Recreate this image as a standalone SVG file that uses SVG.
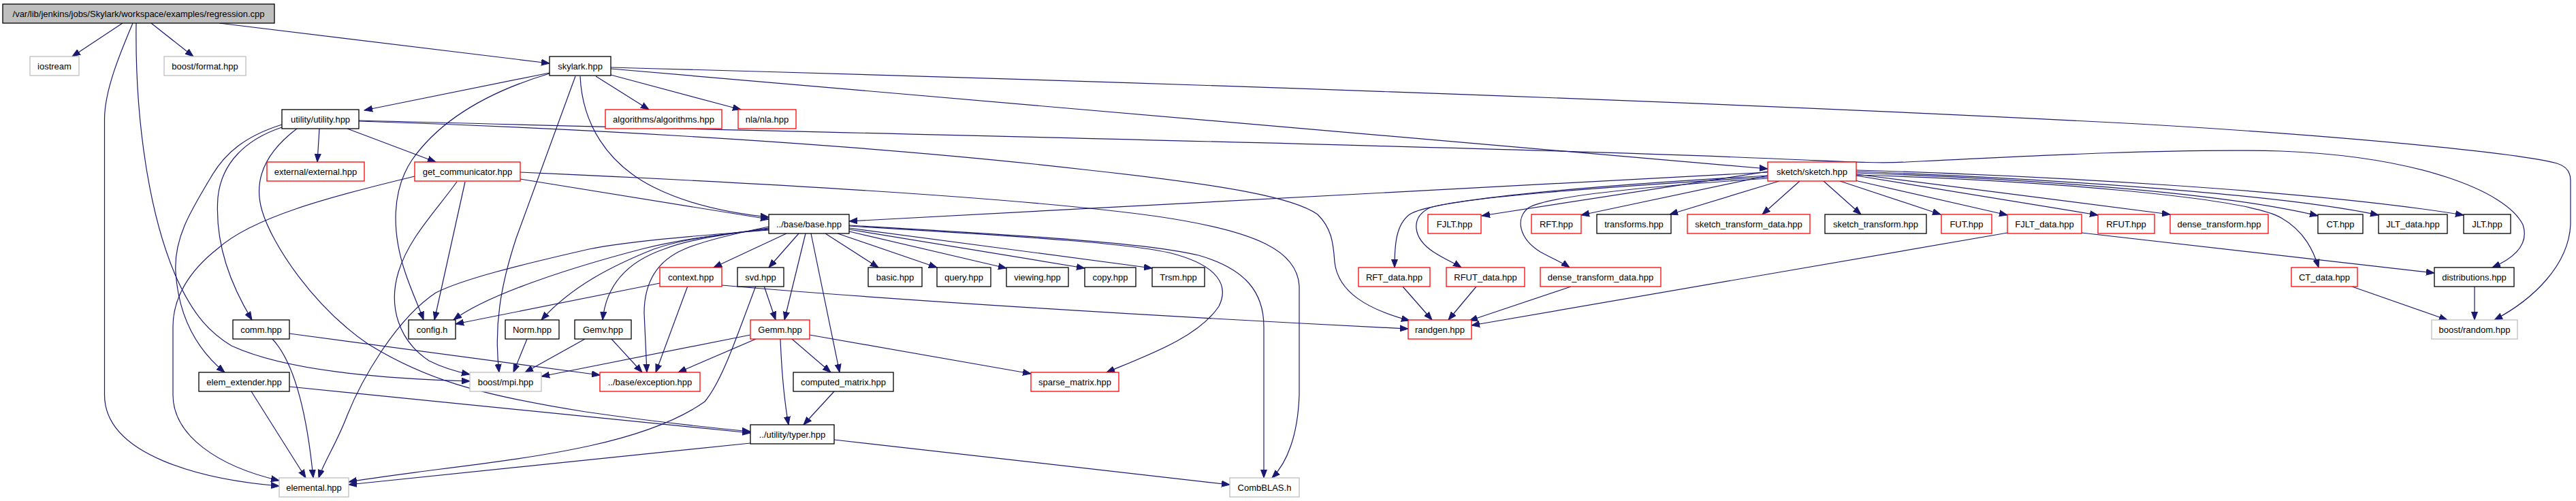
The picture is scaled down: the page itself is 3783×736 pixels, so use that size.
<svg xmlns="http://www.w3.org/2000/svg" width="3783" height="736" viewBox="0 0 3783 736">
<style>
.n rect{fill:#fff;stroke-width:1.3}
.nb rect{stroke:#000}
.nr rect{stroke:#ff0000}
.ng rect{stroke:#bfbfbf}
.root rect{fill:#bfbfbf;stroke:#000}
text{font-family:"Liberation Sans",Arial,sans-serif;font-size:13px;fill:#000;text-anchor:middle}
#edges path{fill:none;stroke:#191970;stroke-width:1.2;marker-end:url(#ah)}
</style>
<defs>
<marker id="ah" markerUnits="userSpaceOnUse" markerWidth="13" markerHeight="10" refX="12" refY="5" orient="auto">
<path d="M0,0.5 L12,5 L0,9.5 z" fill="#191970" stroke="#191970" stroke-width="1"/>
</marker>
</defs>
<rect width="3783" height="736" fill="#fff"/>
<g id="edges">
<path d="M180,34 L106,83"/>
<path d="M222,34 L284,83"/>
<path d="M322,34 L807,93"/>
<path d="M195,34 C180,70 153.5,130 153.5,175 L153.5,580 C153.5,670 300,705 410,714"/>
<path d="M200,34 C198,180 220,320 260,410 C285,465 310,490 340,508 C420,545 560,556 690,560"/>
<path d="M807,107 L535,162"/>
<path d="M807,108 C700,140 640,185 605,235 C575,280 575,340 595,400 C605,430 615,450 622,470"/>
<path d="M845,112 L758,350 C735,420 725,480 733,547"/>
<path d="M852,112 C855,180 890,240 960,275 C1020,305 1090,315 1129,319"/>
<path d="M875,112 L953,161"/>
<path d="M897,110 L1088,161"/>
<path d="M897,99 C1600,118 2500,148 3140,182 C3450,200 3700,225 3755,240 Q3775,246 3775,265 L3775,330 C3772,390 3720,440 3663,470"/>
<path d="M897,101 L2596,248"/>
<path d="M469,189 L466,238"/>
<path d="M510,189 L640,238"/>
<path d="M414,183 C360,200 330,225 310,260 C280,310 255,350 258,400 C262,460 285,510 330,547"/>
<path d="M414,187 C360,205 325,240 320,290 C315,360 340,420 370,470"/>
<path d="M436,189 C395,220 370,260 385,310 C400,360 460,450 540,505 C620,555 700,580 860,605 C950,618 1040,628 1102,634"/>
<path d="M527,178 C900,190 1300,215 1600,250 C1800,272 1900,290 1935,315 C1955,335 1958,355 1960,385 C1965,430 2010,455 2070,471"/>
<path d="M527,177 C1200,195 2200,215 2650,235 C2720,238 2760,240 2800,238 C3000,228 3200,218 3350,222 C3550,230 3680,280 3705,330 C3715,360 3690,380 3660,393"/>
<path d="M609,259 C480,290 370,320 320,365 C275,400 254,440 254,480 L254,580 C254,640 320,685 410,706"/>
<path d="M683,267 L638,470"/>
<path d="M671,267 C640,310 600,350 585,400 C570,450 585,500 630,530 C650,540 670,546 690,550"/>
<path d="M764,263 L1129,322"/>
<path d="M764,253 C1100,268 1500,290 1700,318 C1850,340 1905,370 1908,420 L1908,580 C1906,640 1890,680 1868,702"/>
<path d="M1155,343 L1048,393"/>
<path d="M1173,343 L1129,393"/>
<path d="M1183,343 L1152,470"/>
<path d="M1191,343 L1233,547"/>
<path d="M1212,343 L1290,393"/>
<path d="M1230,343 L1376,393"/>
<path d="M1247,340 L1478,394"/>
<path d="M1247,337 L1593,394"/>
<path d="M1247,335 L1692,394"/>
<path d="M1247,332 C1450,345 1650,355 1720,372 C1790,390 1805,420 1790,450 C1760,495 1690,520 1625,547"/>
<path d="M1247,331 C1450,343 1680,355 1760,375 C1830,395 1856,430 1856,480 L1856,702"/>
<path d="M1129,333 C1070,345 1030,355 1005,366 C960,385 946,420 946,460 L950,547"/>
<path d="M1129,335 C1060,345 1010,352 975,366 C920,385 890,420 885,470"/>
<path d="M1129,336 C1050,345 1000,352 960,366 C900,390 840,420 795,470"/>
<path d="M1129,337 C1040,346 990,354 942,366 C850,390 720,430 666,470"/>
<path d="M1129,338 C1000,348 920,355 865,366 C760,390 680,410 640,430 C580,470 530,560 510,610 C495,650 475,680 468,702"/>
<path d="M969,416 L669,476"/>
<path d="M1010,420 L963,547"/>
<path d="M1060,419 C1300,440 1700,465 2068,483"/>
<path d="M1122,420 L1139,470"/>
<path d="M1110,420 C1080,500 1060,560 1035,590 C950,650 800,670 640,690 C580,698 540,703 512,708"/>
<path d="M774,498 L754,547"/>
<path d="M859,498 L771,547"/>
<path d="M898,498 L943,547"/>
<path d="M1102,492 L795,553"/>
<path d="M1110,498 L996,547"/>
<path d="M1146,498 C1148,550 1152,590 1158,624"/>
<path d="M1163,498 L1220,547"/>
<path d="M1189,492 L1514,549"/>
<path d="M1225,575 L1180,624"/>
<path d="M1102,651 L512,712"/>
<path d="M1225,646 L1806,712"/>
<path d="M425,490 L881,551"/>
<path d="M400,498 C430,530 450,600 460,702"/>
<path d="M369,575 L449,702"/>
<path d="M425,568 L1102,636"/>
<path d="M2596,253 L1247,325"/>
<path d="M2596,252 L2176,317"/>
<path d="M2596,258 L2322,316"/>
<path d="M2613,266 L2452,315"/>
<path d="M2643,266 L2588,315"/>
<path d="M2678,266 L2733,315"/>
<path d="M2702,266 L2850,315"/>
<path d="M2724,265 L2948,316"/>
<path d="M2726,258 L3081,316"/>
<path d="M2726,256 L3187,315"/>
<path d="M2726,254 C2950,262 3250,280 3404,317"/>
<path d="M2726,252 C3000,262 3350,285 3493,316"/>
<path d="M2726,250 C3000,258 3400,280 3618,316"/>
<path d="M2726,257 C3000,265 3300,290 3350,320 C3385,340 3398,370 3405,393"/>
<path d="M2596,258 C2300,275 2100,295 2070,315 C2050,330 2048,360 2048,393"/>
<path d="M2596,260 C2350,275 2150,290 2100,305 C2070,320 2075,350 2105,370 C2120,380 2135,386 2146,393"/>
<path d="M2596,262 C2400,275 2270,290 2245,305 C2225,320 2230,350 2262,370 C2280,380 2295,386 2305,393"/>
<path d="M2060,421 L2103,470"/>
<path d="M2168,421 L2127,470"/>
<path d="M2307,421 L2158,471"/>
<path d="M2948,342 L2161,478"/>
<path d="M3057,342 L3575,401"/>
<path d="M3454,421 L3594,470"/>
<path d="M3634,421 L3634,470"/>
</g>
<g id="n_root" class="n root"><rect x="4" y="6" width="399" height="28"/><text x="203.5" y="24.7">/var/lib/jenkins/jobs/Skylark/workspace/examples/regression.cpp</text></g>
<g id="n_iostream" class="n ng"><rect x="44" y="83" width="72" height="28"/><text x="80" y="101.7">iostream</text></g>
<g id="n_boost_format" class="n ng"><rect x="241" y="83" width="120" height="28"/><text x="301" y="101.7">boost/format.hpp</text></g>
<g id="n_skylark" class="n nb"><rect x="807" y="83" width="90" height="28"/><text x="852" y="101.7">skylark.hpp</text></g>
<g id="n_utility" class="n nb"><rect x="414" y="161" width="113" height="28"/><text x="470.5" y="179.7">utility/utility.hpp</text></g>
<g id="n_algorithms" class="n nr"><rect x="889" y="161" width="171" height="28"/><text x="974.5" y="179.7">algorithms/algorithms.hpp</text></g>
<g id="n_nla" class="n nr"><rect x="1084" y="161" width="85" height="28"/><text x="1126.5" y="179.7">nla/nla.hpp</text></g>
<g id="n_external" class="n nr"><rect x="392" y="238" width="143" height="28"/><text x="463.5" y="256.7">external/external.hpp</text></g>
<g id="n_get_communicator" class="n nr"><rect x="609" y="238" width="155" height="28"/><text x="686.5" y="256.7">get_communicator.hpp</text></g>
<g id="n_sketch" class="n nr"><rect x="2596" y="238" width="130" height="28"/><text x="2661" y="256.7">sketch/sketch.hpp</text></g>
<g id="n_base" class="n nb"><rect x="1129" y="315" width="118" height="28"/><text x="1188" y="333.7">../base/base.hpp</text></g>
<g id="n_FJLT" class="n nr"><rect x="2097" y="315" width="78" height="28"/><text x="2136" y="333.7">FJLT.hpp</text></g>
<g id="n_RFT" class="n nr"><rect x="2249" y="315" width="73" height="28"/><text x="2285.5" y="333.7">RFT.hpp</text></g>
<g id="n_transforms" class="n nb"><rect x="2345" y="315" width="109" height="28"/><text x="2399.5" y="333.7">transforms.hpp</text></g>
<g id="n_sketch_transform_data" class="n nr"><rect x="2478" y="315" width="180" height="28"/><text x="2568" y="333.7">sketch_transform_data.hpp</text></g>
<g id="n_sketch_transform" class="n nb"><rect x="2680" y="315" width="149" height="28"/><text x="2754.5" y="333.7">sketch_transform.hpp</text></g>
<g id="n_FUT" class="n nr"><rect x="2851" y="315" width="74" height="28"/><text x="2888" y="333.7">FUT.hpp</text></g>
<g id="n_FJLT_data" class="n nr"><rect x="2948" y="315" width="109" height="28"/><text x="3002.5" y="333.7">FJLT_data.hpp</text></g>
<g id="n_RFUT" class="n nr"><rect x="3081" y="315" width="83" height="28"/><text x="3122.5" y="333.7">RFUT.hpp</text></g>
<g id="n_dense_transform" class="n nr"><rect x="3187" y="315" width="144" height="28"/><text x="3259" y="333.7">dense_transform.hpp</text></g>
<g id="n_CT" class="n nb"><rect x="3404" y="315" width="66" height="28"/><text x="3437" y="333.7">CT.hpp</text></g>
<g id="n_JLT_data" class="n nb"><rect x="3493" y="315" width="101" height="28"/><text x="3543.5" y="333.7">JLT_data.hpp</text></g>
<g id="n_JLT" class="n nb"><rect x="3618" y="315" width="69" height="28"/><text x="3652.5" y="333.7">JLT.hpp</text></g>
<g id="n_context" class="n nr"><rect x="969" y="393" width="91" height="28"/><text x="1014.5" y="411.7">context.hpp</text></g>
<g id="n_svd" class="n nb"><rect x="1083" y="393" width="68" height="28"/><text x="1117" y="411.7">svd.hpp</text></g>
<g id="n_basic" class="n nb"><rect x="1275" y="393" width="79" height="28"/><text x="1314.5" y="411.7">basic.hpp</text></g>
<g id="n_query" class="n nb"><rect x="1376" y="393" width="79" height="28"/><text x="1415.5" y="411.7">query.hpp</text></g>
<g id="n_viewing" class="n nb"><rect x="1478" y="393" width="91" height="28"/><text x="1523.5" y="411.7">viewing.hpp</text></g>
<g id="n_copy" class="n nb"><rect x="1593" y="393" width="75" height="28"/><text x="1630.5" y="411.7">copy.hpp</text></g>
<g id="n_Trsm" class="n nb"><rect x="1692" y="393" width="77" height="28"/><text x="1730.5" y="411.7">Trsm.hpp</text></g>
<g id="n_RFT_data" class="n nr"><rect x="1995" y="393" width="105" height="28"/><text x="2047.5" y="411.7">RFT_data.hpp</text></g>
<g id="n_RFUT_data" class="n nr"><rect x="2124" y="393" width="115" height="28"/><text x="2181.5" y="411.7">RFUT_data.hpp</text></g>
<g id="n_dense_transform_data" class="n nr"><rect x="2262" y="393" width="177" height="28"/><text x="2350.5" y="411.7">dense_transform_data.hpp</text></g>
<g id="n_CT_data" class="n nr"><rect x="3365" y="393" width="97" height="28"/><text x="3413.5" y="411.7">CT_data.hpp</text></g>
<g id="n_distributions" class="n nb"><rect x="3575" y="393" width="117" height="28"/><text x="3633.5" y="411.7">distributions.hpp</text></g>
<g id="n_comm" class="n nb"><rect x="342" y="470" width="83" height="28"/><text x="383.5" y="488.7">comm.hpp</text></g>
<g id="n_config" class="n nb"><rect x="600" y="470" width="69" height="28"/><text x="634.5" y="488.7">config.h</text></g>
<g id="n_Norm" class="n nb"><rect x="742" y="470" width="79" height="28"/><text x="781.5" y="488.7">Norm.hpp</text></g>
<g id="n_Gemv" class="n nb"><rect x="844" y="470" width="83" height="28"/><text x="885.5" y="488.7">Gemv.hpp</text></g>
<g id="n_Gemm" class="n nr"><rect x="1102" y="470" width="87" height="28"/><text x="1145.5" y="488.7">Gemm.hpp</text></g>
<g id="n_randgen" class="n nr"><rect x="2068" y="470" width="93" height="28"/><text x="2114.5" y="488.7">randgen.hpp</text></g>
<g id="n_boost_random" class="n ng"><rect x="3571" y="470" width="126" height="28"/><text x="3634" y="488.7">boost/random.hpp</text></g>
<g id="n_elem_extender" class="n nb"><rect x="292" y="547" width="133" height="28"/><text x="358.5" y="565.7">elem_extender.hpp</text></g>
<g id="n_boost_mpi" class="n ng"><rect x="690" y="547" width="105" height="28"/><text x="742.5" y="565.7">boost/mpi.hpp</text></g>
<g id="n_exception" class="n nr"><rect x="881" y="547" width="147" height="28"/><text x="954.5" y="565.7">../base/exception.hpp</text></g>
<g id="n_computed_matrix" class="n nb"><rect x="1165" y="547" width="147" height="28"/><text x="1238.5" y="565.7">computed_matrix.hpp</text></g>
<g id="n_sparse_matrix" class="n nr"><rect x="1514" y="547" width="129" height="28"/><text x="1578.5" y="565.7">sparse_matrix.hpp</text></g>
<g id="n_typer" class="n nb"><rect x="1102" y="624" width="123" height="28"/><text x="1163.5" y="642.7">../utility/typer.hpp</text></g>
<g id="n_elemental" class="n ng"><rect x="410" y="702" width="102" height="28"/><text x="461" y="720.7">elemental.hpp</text></g>
<g id="n_CombBLAS" class="n ng"><rect x="1806" y="702" width="102" height="28"/><text x="1857" y="720.7">CombBLAS.h</text></g>
</svg>
